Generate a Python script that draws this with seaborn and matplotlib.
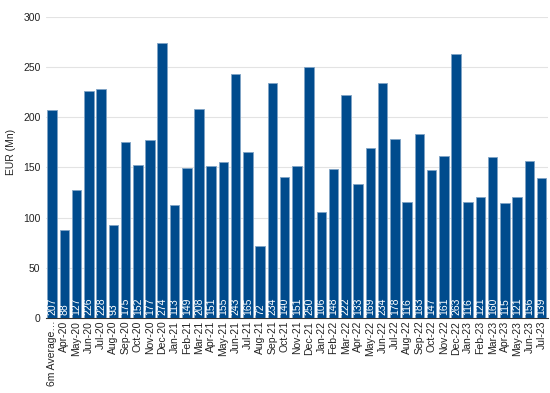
import matplotlib
matplotlib.use("Agg")
import matplotlib.pyplot as plt
import seaborn as sns
import numpy as np
import pandas as pd

categories = ["6m Average…",
              "Apr-20", "May-20", "Jun-20", "Jul-20", "Aug-20", "Sep-20", "Oct-20", "Nov-20", "Dec-20",
              "Jan-21", "Feb-21", "Mar-21", "Apr-21", "May-21", "Jun-21", "Jul-21", "Aug-21", "Sep-21",
              "Oct-21", "Nov-21", "Dec-21", "Jan-22", "Feb-22", "Mar-22", "Apr-22", "May-22", "Jun-22",
              "Jul-22", "Aug-22", "Sep-22", "Oct-22", "Nov-22", "Dec-22", "Jan-23", "Feb-23", "Mar-23",
              "Apr-23", "May-23", "Jun-23", "Jul-23"]
values = [207, 88, 127, 226, 228, 93, 175, 152, 177, 274, 113, 149, 208, 151, 155, 243, 165, 72,
          234, 140, 151, 250, 106, 148, 222, 133, 169, 234, 178, 116, 183, 147, 161, 263, 116, 121,
          160, 115, 121, 156, 139]

df = pd.DataFrame({"cat": categories, "val": values})

sns.set_theme(style="white")
plt.rcParams['font.family'] = ['Liberation Sans', 'DejaVu Sans']

fig = plt.figure(figsize=(5.5, 3.93), dpi=100)
ax = fig.add_axes([0.0836, 0.191, 0.9124, 0.766])

sns.barplot(data=df, x="cat", y="val", color="#004B8D", saturation=1, width=0.78,
            edgecolor="#7FA3C6", linewidth=0.6, ax=ax, zorder=3)

for i, v in enumerate(values):
    ax.text(i, 3, str(v), rotation=90, ha="center", va="bottom", color="white",
            fontsize=7.5, zorder=4)

ax.set_ylim(0, 300)
ax.set_xlim(-0.5, len(categories) - 0.5)
ax.set_yticks(np.arange(0, 301, 50))
ax.yaxis.grid(True, color="#E3E3E3", linewidth=0.8, zorder=0)
ax.set_xlabel("")
ax.set_ylabel("EUR (Mn)", fontsize=7.5, color="#222222")
ax.yaxis.set_label_coords(-0.06, 0.55)
ax.tick_params(axis="y", labelsize=7.5, length=0, pad=4, labelcolor="#222222")
ax.tick_params(axis="x", labelsize=7.5, rotation=90, length=0, pad=2, labelcolor="#222222")
ax.set_xticks(np.arange(-0.5, len(categories), 1.0), minor=True)
ax.tick_params(axis="x", which="minor", length=3, color="#333333", width=0.8)
for s in ["left", "right", "top"]:
    ax.spines[s].set_visible(False)
ax.spines["bottom"].set_color("#333333")
ax.spines["bottom"].set_linewidth(0.8)

fig.savefig("out.png", dpi=100)
